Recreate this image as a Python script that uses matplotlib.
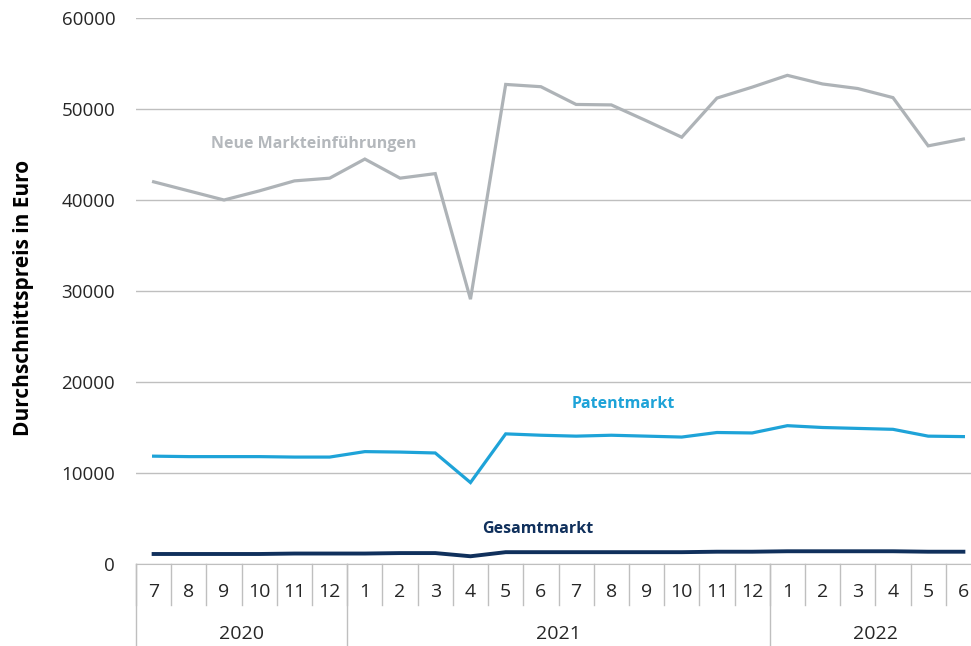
# Durchschnittspreis je Monat, Juli 2020 bis Juni 2022
import matplotlib.pyplot as plt
import matplotlib.transforms as mtransforms

plt.rcParams['font.family'] = ['Open Sans', 'DejaVu Sans']

# data
months = ['7', '8', '9', '10', '11', '12',
          '1', '2', '3', '4', '5', '6', '7', '8', '9', '10', '11', '12',
          '1', '2', '3', '4', '5', '6']
years = ['2020', '2021', '2022']
year_counts = [6, 12, 6]

neue = [42000, 41000, 40000, 41000, 42100, 42400, 44500, 42400, 42900, 29100,
        52700, 52450, 50500, 50450, 48700, 46900, 51200, 52400, 53700, 52750,
        52250, 51250, 45950, 46700]
patent = [11850, 11800, 11800, 11800, 11750, 11750, 12350, 12300, 12200, 8950,
          14300, 14150, 14050, 14150, 14050, 13950, 14450, 14400, 15200, 15000,
          14900, 14800, 14050, 14000]
gesamt = [1100, 1100, 1100, 1100, 1150, 1150, 1150, 1200, 1200, 850,
          1300, 1300, 1300, 1300, 1300, 1300, 1350, 1350, 1400, 1400,
          1400, 1400, 1350, 1350]

c_neue = '#aeb3b7'
c_patent = '#1ea3d8'
c_gesamt = '#10305c'
c_grid = '#bfbfbf'

fig = plt.figure(figsize=(9.71, 6.46), dpi=100)
ax = fig.add_axes([136/971, 82/646, 845/971, 546/646])

x = list(range(len(months)))
ax.plot(x, neue, color=c_neue, lw=2.3, solid_joinstyle='miter', zorder=3)
ax.plot(x, patent, color=c_patent, lw=2.3, solid_joinstyle='miter', zorder=3)
ax.plot(x, gesamt, color=c_gesamt, lw=2.8, zorder=3)

ax.set_xlim(-0.5, len(months) - 0.5)
ax.set_ylim(0, 60000)
ax.set_yticks(range(0, 60001, 10000))
ax.set_yticklabels([str(v) for v in range(0, 60001, 10000)], fontsize=13.5, color='#262626')
ax.tick_params(axis='y', length=0, pad=15)
ax.set_xticks([])
ax.yaxis.grid(True, color=c_grid, lw=1)
ax.set_axisbelow(True)
for s in ['top', 'right', 'left']:
    ax.spines[s].set_visible(False)
ax.spines['bottom'].set_color(c_grid)

# series labels
ax.text(4.55, 46100, 'Neue Markteinführungen', color='#b4b8bc', fontsize=11.5,
        fontweight='bold', ha='center', va='center')
ax.text(13.35, 17600, 'Patentmarkt', color=c_patent, fontsize=11.5,
        fontweight='bold', ha='center', va='center')
ax.text(10.9, 3800, 'Gesamtmarkt', color=c_gesamt, fontsize=11.5,
        fontweight='bold', ha='center', va='center')

# category axis with months and years
trans = mtransforms.blended_transform_factory(ax.transData, ax.transAxes)
h = 546.0
for i, m in enumerate(months):
    ax.text(i, -28/h, m, transform=trans, ha='center', va='center',
            fontsize=14, color='#262626')
for k in range(len(months) + 1):
    ax.plot([k - 0.5, k - 0.5], [0, -41/h], transform=trans, color=c_grid,
            lw=1, clip_on=False)
start = 0
for y, n in zip(years, year_counts):
    ax.plot([start - 0.5, start - 0.5], [0, -82/h], transform=trans,
            color=c_grid, lw=1, clip_on=False)
    ax.text(start + (n - 1) / 2, -70/h, y, transform=trans, ha='center',
            va='center', fontsize=14, color='#262626')
    start += n

fig.text(24/971, 1 - 298/646, 'Durchschnittspreis in Euro', rotation=90,
         ha='center', va='center', fontsize=15, fontweight='bold')

fig.savefig('out.png', dpi=100)
